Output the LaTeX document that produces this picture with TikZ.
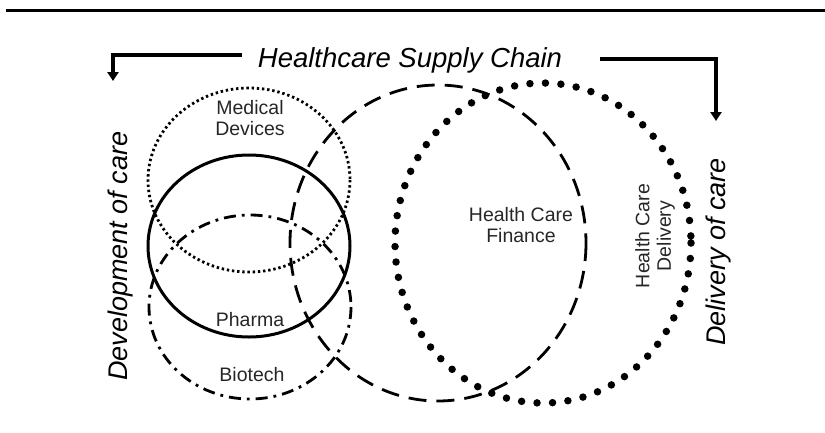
\documentclass[tikz,border=0pt]{standalone}
\usepackage{fontspec}
\setmainfont{Liberation Sans}
\usetikzlibrary{arrows.meta}

\begin{document}
\begin{tikzpicture}[x=1pt,y=-1pt]
    \tikzstyle{field} = [font=\fontsize{19.5}{21.5}\selectfont, text=black!85, align=center, inner sep=0pt]
    \tikzstyle{care} = [font=\fontsize{27}{30}\selectfont\itshape, rotate=90, inner sep=0pt]
    \tikzstyle{flow} = [line width=4pt, -{Triangle[length=9pt,width=11pt]}]
    \tikzstyle{devices} = [line width=2.8pt, dash pattern=on 2.4pt off 2.8pt]
    \tikzstyle{pharma} = [line width=3pt]
    \tikzstyle{biotech} = [line width=2.8pt, dash pattern=on 12pt off 6pt on 2.8pt off 6pt]
    \tikzstyle{finance} = [line width=2.8pt, dash pattern=on 18pt off 10pt]
    \tikzstyle{delivery} = [line width=7.5pt, line cap=round, dash pattern=on 0pt off 15.5pt]
    \useasboundingbox (0,0) rectangle (825,432);
    % rule above the figure
    \coordinate (ruleL) at (6,10);
    \coordinate (ruleR) at (825,10);
    \draw[line width=3pt] (ruleL) -- (ruleR);
    % supply chain and the two directions
    \node[font=\fontsize{27.5}{30}\selectfont\itshape, anchor=base] (chain) at (410,67) {Healthcare Supply Chain};
    \node[care] (develop) at (121,256) {Development of care};
    \node[care] (deliver) at (719,252) {Delivery of care};
    \coordinate (leftstart) at (242,55);
    \coordinate (lefttip) at (113,81);
    \coordinate (rightstart) at (600,59);
    \coordinate (righttip) at (716,121);
    \draw[flow] (leftstart) -| (lefttip);
    \draw[flow] (rightstart) -| (righttip);
    % sectors
    \draw[devices] (249,180) ellipse (101 and 92);
    \draw[pharma] (249,246) ellipse (101 and 91);
    \draw[biotech] (250,307) ellipse (101 and 92);
    \draw[finance] (438,243) ellipse (148 and 158);
    \draw[delivery] (543,243) ellipse (148 and 160);
    \node[field] (devname) at (250,118) {Medical\\Devices};
    \node[field] (pharmaname) at (250,320) {Pharma};
    \node[field] (bioname) at (252,375) {Biotech};
    \node[field] (finname) at (521,225) {Health Care\\Finance};
    \node[field, rotate=90] (delname) at (655,236) {Health Care\\Delivery};
\end{tikzpicture}
\end{document}
